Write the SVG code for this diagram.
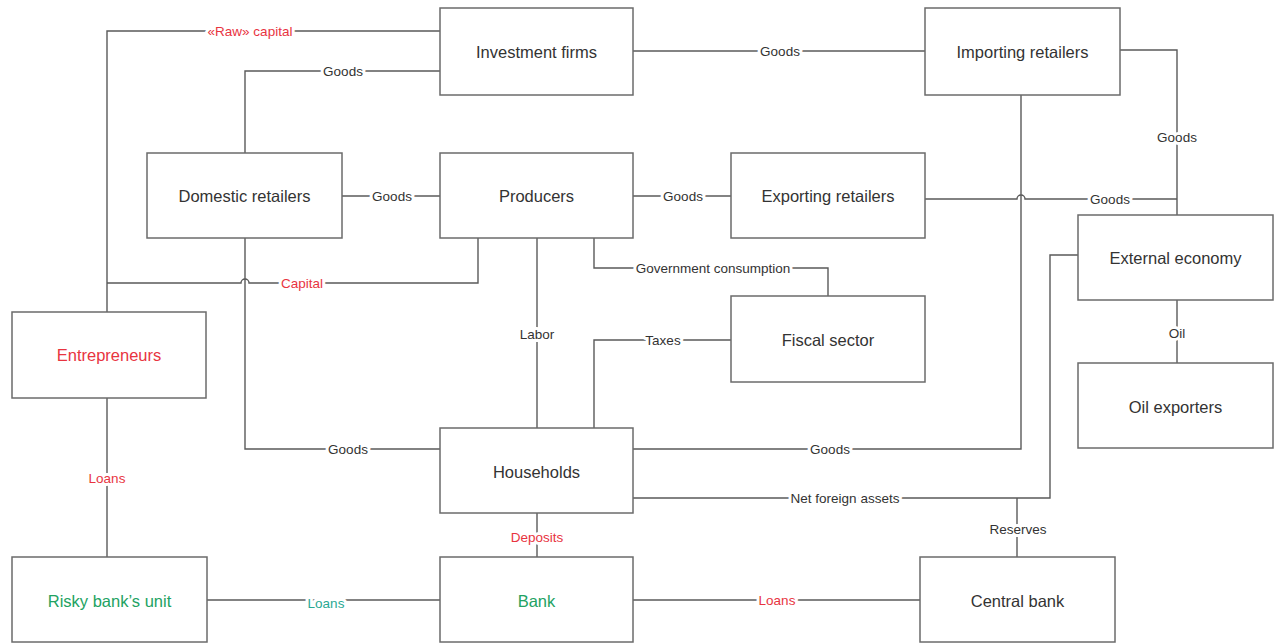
<svg xmlns="http://www.w3.org/2000/svg" width="1276" height="644" viewBox="0 0 1276 644">
<style>
.box{fill:#fff;stroke:#6b6b6b;stroke-width:1.5}
.line{fill:none;stroke:#5a5a5a;stroke-width:1.4}
.nt{font-family:"Liberation Sans",Arial,sans-serif;font-size:16.5px;fill:#333;text-anchor:middle;dominant-baseline:central}
.lb{font-family:"Liberation Sans",Arial,sans-serif;font-size:13.5px;fill:#333;text-anchor:middle;dominant-baseline:central;stroke:#fff;stroke-width:6;stroke-linejoin:round;paint-order:stroke}
.red{fill:#e8343f}
.green{fill:#22a262}
.teal{fill:#2aa893}
</style>
<rect width="1276" height="644" fill="#fff"/>
<g id="connectors">
<path class="line" d="M440,31 H107 V312"/>
<path class="line" d="M440,71 H245 V153"/>
<path class="line" d="M633,51 H925"/>
<path class="line" d="M342,196 H440"/>
<path class="line" d="M633,196 H731"/>
<path class="line" d="M1120,50 H1177 V215"/>
<path class="line" d="M925,199 H1017 a4,4 0 0 1 8,0 H1177"/>
<path class="line" d="M107,283 H241 a4,4 0 0 1 8,0 H478 V238"/>
<path class="line" d="M594,238 V268 H828 V296"/>
<path class="line" d="M537,238 V428"/>
<path class="line" d="M731,340 H594 V428"/>
<path class="line" d="M1177,300 V363"/>
<path class="line" d="M245,238 V449 H440"/>
<path class="line" d="M633,449 H1021 V95"/>
<path class="line" d="M633,498 H1050 V255 H1078"/>
<path class="line" d="M1017,498 V557"/>
<path class="line" d="M107,398 V557"/>
<path class="line" d="M537,513 V557"/>
<path class="line" d="M207,600 H440"/>
<path class="line" d="M633,600 H920"/>
<text class="lb red" x="250" y="31">«Raw» capital</text>
<text class="lb" x="343" y="71">Goods</text>
<text class="lb" x="780" y="51">Goods</text>
<text class="lb" x="392" y="196">Goods</text>
<text class="lb" x="683" y="196">Goods</text>
<text class="lb" x="1177" y="137">Goods</text>
<text class="lb" x="1110" y="199">Goods</text>
<text class="lb red" x="302" y="283">Capital</text>
<text class="lb" x="713" y="268">Government consumption</text>
<text class="lb" x="537" y="334">Labor</text>
<text class="lb" x="663" y="340">Taxes</text>
<text class="lb" x="1177" y="333">Oil</text>
<text class="lb" x="348" y="449">Goods</text>
<text class="lb" x="830" y="449">Goods</text>
<text class="lb" x="845" y="498">Net foreign assets</text>
<text class="lb" x="1018" y="529">Reserves</text>
<text class="lb red" x="107" y="478">Loans</text>
<text class="lb red" x="537" y="537">Deposits</text>
<text class="lb teal" x="326" y="603">Loans</text>
<text class="lb red" x="777" y="600">Loans</text>
</g>
<g id="investment-firms"><rect class="box" x="440" y="8" width="193" height="87"/><text class="nt" x="536.5" y="52">Investment firms</text></g>
<g id="importing-retailers"><rect class="box" x="925" y="8" width="195" height="87"/><text class="nt" x="1022.5" y="52">Importing retailers</text></g>
<g id="domestic-retailers"><rect class="box" x="147" y="153" width="195" height="85"/><text class="nt" x="244.5" y="196">Domestic retailers</text></g>
<g id="producers"><rect class="box" x="440" y="153" width="193" height="85"/><text class="nt" x="536.5" y="196">Producers</text></g>
<g id="exporting-retailers"><rect class="box" x="731" y="153" width="194" height="85"/><text class="nt" x="828" y="196">Exporting retailers</text></g>
<g id="external-economy"><rect class="box" x="1078" y="215" width="195" height="85"/><text class="nt" x="1175.5" y="258">External economy</text></g>
<g id="fiscal-sector"><rect class="box" x="731" y="296" width="194" height="86"/><text class="nt" x="828" y="340">Fiscal sector</text></g>
<g id="oil-exporters"><rect class="box" x="1078" y="363" width="195" height="85"/><text class="nt" x="1175.5" y="407">Oil exporters</text></g>
<g id="entrepreneurs"><rect class="box" x="12" y="312" width="194" height="86"/><text class="nt red" x="109" y="355">Entrepreneurs</text></g>
<g id="households"><rect class="box" x="440" y="428" width="193" height="85"/><text class="nt" x="536.5" y="472">Households</text></g>
<g id="risky-bank-unit"><rect class="box" x="12" y="557" width="195" height="85"/><text class="nt green" x="109.5" y="601">Risky bank’s unit</text></g>
<g id="bank"><rect class="box" x="440" y="557" width="193" height="85"/><text class="nt green" x="536.5" y="601">Bank</text></g>
<g id="central-bank"><rect class="box" x="920" y="557" width="195" height="85"/><text class="nt" x="1017.5" y="601">Central bank</text></g>
</svg>
